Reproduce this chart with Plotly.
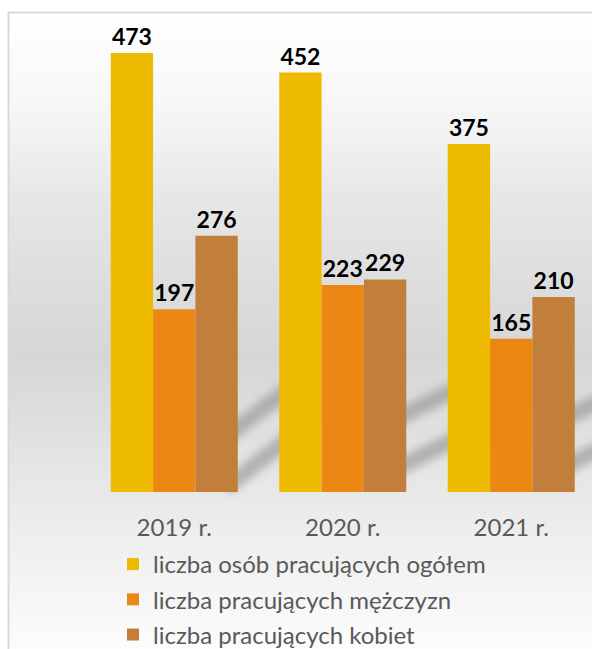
import base64
import plotly.graph_objects as go

# ---- data ----
categories = ["2019 r.", "2020 r.", "2021 r."]
series_names = [
    "liczba osób pracujących ogółem",
    "liczba pracujących mężczyzn",
    "liczba pracujących kobiet",
]
total_workers = [473, 452, 375]
men_workers = [197, 223, 165]
women_workers = [276, 229, 210]

series_values = [total_workers, men_workers, women_workers]
colors = ["#eebb00", "#ec8714", "#c17f3b"]

W, H = 592, 649
ML, MR, MT, MB = 90, 0, 0, 157

# ---- decorative background (gradient, border, soft streak shadows) ----
svg = f'''<svg xmlns="http://www.w3.org/2000/svg" width="{W}" height="{H}" viewBox="0 0 {W} {H}" preserveAspectRatio="none">
<defs>
<linearGradient id="bg" x1="0" y1="0" x2="0" y2="1">
<stop offset="0" stop-color="#ffffff"/>
<stop offset="0.14" stop-color="#f7f7f7"/>
<stop offset="0.29" stop-color="#e6e6e6"/>
<stop offset="0.53" stop-color="#d6d6d6"/>
<stop offset="0.77" stop-color="#ebebeb"/>
<stop offset="1" stop-color="#fefefe"/>
</linearGradient>
<filter id="blur" x="-20%" y="-50%" width="140%" height="200%"><feGaussianBlur stdDeviation="4"/></filter>
</defs>
<rect x="0" y="0" width="{W}" height="{H}" fill="#ffffff"/>
<rect x="9" y="13" width="{W}" height="{H}" fill="url(#bg)"/>
<g filter="url(#blur)" stroke="#8f8f8f" stroke-opacity="0.6" stroke-width="16" stroke-linecap="butt" fill="none">
<line x1="225" y1="437" x2="292" y2="387"/>
<line x1="225" y1="488" x2="292" y2="436"/>
<line x1="395" y1="419" x2="460" y2="387"/>
<line x1="395" y1="469" x2="460" y2="437"/>
<line x1="565" y1="418" x2="600" y2="401"/>
<line x1="565" y1="466" x2="600" y2="449"/>
</g>
<path d="M8.5,{H} L8.5,12.5 L{W},12.5" fill="none" stroke="#d9d9d9" stroke-width="2"/>
</svg>'''
svg_uri = "data:image/svg+xml;base64," + base64.b64encode(svg.encode("utf-8")).decode("ascii")

pw = W - ML - MR
ph = H - MT - MB

fig = go.Figure()
for i, (name, vals, col) in enumerate(zip(series_names, series_values, colors)):
    fig.add_trace(go.Bar(
        name=name,
        x=categories,
        y=vals,
        marker=dict(color=col, line=dict(width=0)),
        text=vals,
        textposition="outside",
        constraintext="none",
        textfont=dict(family="Lato", size=23, color="#000000", weight="bold"),
        cliponaxis=False,
        legendgroup=f"g{i}",
        hoverinfo="skip",
    ))

fig.update_layout(
    width=W,
    height=H,
    autosize=False,
    margin=dict(l=ML, r=MR, t=MT, b=MB, pad=0, autoexpand=False),
    paper_bgcolor="#ffffff",
    plot_bgcolor="rgba(0,0,0,0)",
    barmode="group",
    bargap=0.246,
    bargroupgap=0,
    font=dict(family="Lato", color="#595959"),
    images=[dict(
        source=svg_uri,
        xref="paper", yref="paper",
        x=-ML / pw, y=1 + MT / ph,
        sizex=W / pw, sizey=H / ph,
        xanchor="left", yanchor="top",
        sizing="stretch",
        layer="below",
    )],
    xaxis=dict(
        type="category",
        range=[-0.5, -0.5 + pw / 168.5],
        showgrid=False, zeroline=False, showline=False,
        tickfont=dict(family="Lato", size=24, color="#595959"),
        tickangle=0,
        ticklabelstandoff=19,
        fixedrange=True,
    ),
    yaxis=dict(
        range=[0, ph / 0.9281],
        visible=False,
        fixedrange=True,
    ),
    legend=dict(
        orientation="v",
        xref="container", yref="container",
        x=113 / W, y=1 - 542 / H,
        xanchor="left", yanchor="top",
        font=dict(family="Lato", size=24, color="#595959"),
        bgcolor="rgba(0,0,0,0)",
        traceorder="grouped",
        tracegroupgap=1,
    ),
    showlegend=True,
)

fig.write_html(
    "out.html",
    config={"displayModeBar": False},
    post_script="document.body.style.margin='0';document.body.style.overflow='hidden';",
)
